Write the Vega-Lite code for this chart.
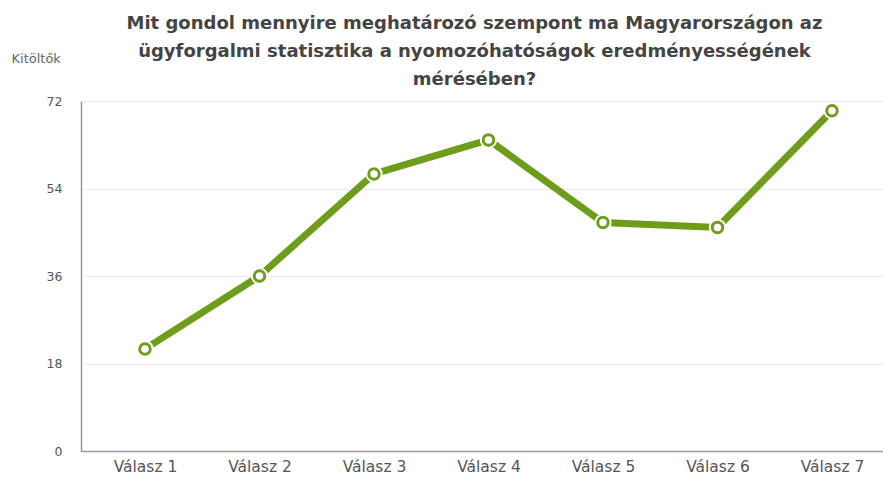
{
  "$schema": "https://vega.github.io/schema/vega-lite/v6.json",
  "autosize": "none",
  "width": 815,
  "height": 350,
  "padding": {"left": 81, "top": 101, "right": 0, "bottom": 32},
  "background": "white",
  "title": {
    "text": ["Mit gondol mennyire meghatározó szempont ma Magyarországon az", "ügyforgalmi statisztika a nyomozóhatóságok eredményességének", "mérésében?"],
    "font": "DejaVu Sans",
    "fontSize": 18,
    "fontWeight": "bold",
    "color": "#444444",
    "lineHeight": 28,
    "anchor": "middle",
    "dx": -14,
    "offset": -37
  },
  "data": {
    "values": [
      {"valasz": "Válasz 1", "kitoltok": 21},
      {"valasz": "Válasz 2", "kitoltok": 36},
      {"valasz": "Válasz 3", "kitoltok": 57},
      {"valasz": "Válasz 4", "kitoltok": 64},
      {"valasz": "Válasz 5", "kitoltok": 47},
      {"valasz": "Válasz 6", "kitoltok": 46},
      {"valasz": "Válasz 7", "kitoltok": 70}
    ]
  },
  "encoding": {
    "x": {
      "field": "valasz", "type": "ordinal", "sort": null,
      "scale": {"type": "point", "padding": 0.559},
      "axis": {"title": null, "labelAngle": 0, "labelFont": "DejaVu Sans", "labelFontSize": 15.5, "labelColor": "#555555", "labelPadding": 8, "ticks": false, "domainColor": "#999999", "domainWidth": 1.5, "grid": false}
    },
    "y": {
      "field": "kitoltok", "type": "quantitative",
      "scale": {"domain": [0, 72], "nice": false},
      "axis": {"values": [0, 18, 36, 54, 72], "title": "Kitöltők", "titleAngle": 0, "titleAlign": "left", "titleBaseline": "middle", "titleX": -70, "titleY": -43, "titleFont": "DejaVu Sans", "titleFontSize": 13, "titleFontWeight": "normal", "titleColor": "#666666", "labelFont": "DejaVu Sans", "labelFontSize": 12.5, "labelColor": "#555555", "labelPadding": 19, "ticks": false, "domainColor": "#999999", "domainWidth": 1.5, "gridColor": "#ebebeb", "gridWidth": 1}
    }
  },
  "layer": [
    {"mark": {"type": "line", "color": "#6e9c1b", "strokeWidth": 7}},
    {"mark": {"type": "point", "shape": "circle", "filled": true, "color": "white", "opacity": 1, "size": 300}},
    {"mark": {"type": "point", "shape": "circle", "filled": false, "fill": "white", "fillOpacity": 1, "stroke": "#6e9c1b", "strokeWidth": 3, "opacity": 1, "size": 110}}
  ]
}
